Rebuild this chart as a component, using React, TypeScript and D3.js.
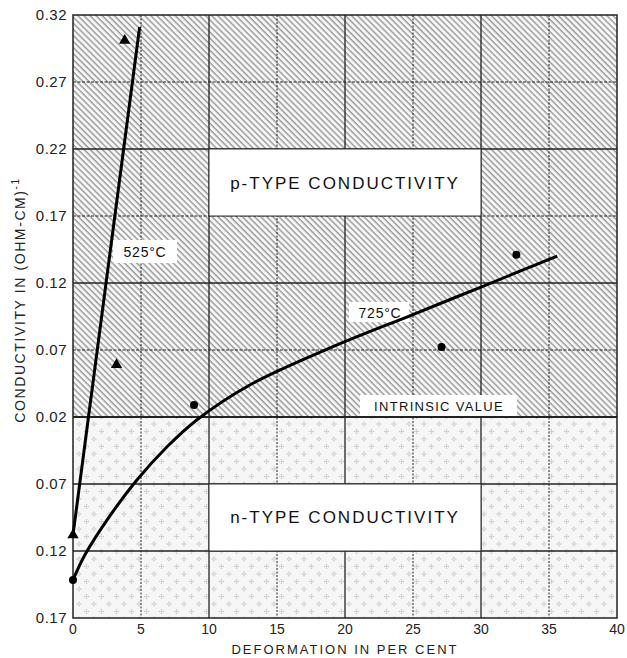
import React from "react";
import * as d3 from "d3";

// Axis position values (u). Above 0.02 = p-type scale, below = n-type scale (label shown separately)
const xTicks = [0, 5, 10, 15, 20, 25, 30, 35, 40];
const yTickPos = [0.32, 0.27, 0.22, 0.17, 0.12, 0.07, 0.02, -0.03, -0.08, -0.13];
const yTickLabels = ["0.32", "0.27", "0.22", "0.17", "0.12", "0.07", "0.02", "0.07", "0.12", "0.17"];

// 525 °C straight line and triangle points
const line525X = [0, 4.9];
const line525Y = [-0.068, 0.311];
const pts525X = [0, 3.2, 3.8];
const pts525Y = [-0.068, 0.059, 0.301];

// 725 °C curve and circle points
const curve725X = [0, 0.9, 2.7, 4.7, 6.9, 9.1, 13, 18.9, 24.9, 30, 35.6];
const curve725Y = [-0.1016, -0.0825, -0.054, -0.027, -0.0024, 0.0178, 0.0439, 0.0715, 0.0961, 0.117, 0.1401];
const pts725X = [0, 8.9, 27.1, 32.6];
const pts725Y = [-0.1016, 0.029, 0.0722, 0.141];

const W = 627;
const H = 658;
const left = 73, right = 617, top = 15, bottom = 618;
const FONT = "'Liberation Sans', Arial, sans-serif";

export default function App() {
  const x = d3.scaleLinear().domain([0, 40]).range([left, right]);
  const y = d3.scaleLinear().domain([-0.13, 0.32]).range([bottom, top]);
  const lineGen = d3.line<[number, number]>().x(d => x(d[0])).y(d => y(d[1]));
  const curveGen = d3.line<[number, number]>().x(d => x(d[0])).y(d => y(d[1])).curve(d3.curveCatmullRom.alpha(0.5));

  const l525 = line525X.map((v, i) => [v, line525Y[i]] as [number, number]);
  const c725 = curve725X.map((v, i) => [v, curve725Y[i]] as [number, number]);

  const y02 = y(0.02);
  const majorX = [10, 20, 30];
  const majorY = [0.22, 0.12, 0.02, -0.03, -0.08];

  const tri = d3.symbol().type(d3.symbolTriangle).size(55)();

  const stippleDots: [number, number][] = [];
  [[4, 4], [11.5, 11.5]].forEach(([cx, cy]) => {
    [[0, 0], [-1.8, 0], [1.8, 0], [0, -1.8], [0, 1.8]].forEach(([dx, dy]) => stippleDots.push([cx + dx, cy + dy]));
  });

  return (
    <svg width={W} height={H} style={{ position: "absolute", left: 0, top: 0, background: "#fff" }} fontFamily={FONT}>
      <defs>
        <pattern id="hatch" width={4.3} height={4.3} patternUnits="userSpaceOnUse" patternTransform="rotate(-45)">
          <rect width={4.3} height={4.3} fill="#f6f6f6" />
          <line x1={1} y1={0} x2={1} y2={4.3} stroke="#888" strokeWidth={1.2} />
        </pattern>
        <pattern id="stipple" width={15} height={15} patternUnits="userSpaceOnUse">
          <rect width={15} height={15} fill="#f6f6f6" />
          {stippleDots.map((p, i) => (
            <circle key={i} cx={p[0]} cy={p[1]} r={0.8} fill="#c4c4c4" />
          ))}
        </pattern>
      </defs>

      {/* regions */}
      <rect x={left} y={top} width={right - left} height={y02 - top} fill="url(#hatch)" />
      <rect x={left} y={y02} width={right - left} height={bottom - y02} fill="url(#stipple)" />

      {/* grid */}
      {xTicks.slice(1, -1).map(t => (
        <line key={"gx" + t} x1={x(t)} x2={x(t)} y1={top} y2={bottom}
          stroke="#222" strokeWidth={majorX.includes(t) ? 1.3 : 1}
          strokeDasharray={majorX.includes(t) ? undefined : "2,1.5"} />
      ))}
      {yTickPos.slice(1, -1).map(t => (
        <line key={"gy" + t} x1={left} x2={right} y1={y(t)} y2={y(t)}
          stroke="#222" strokeWidth={t === 0.02 ? 2.2 : majorY.includes(t) ? 1.3 : 1}
          strokeDasharray={majorY.includes(t) ? undefined : "3,1.5"} />
      ))}

      {/* label boxes */}
      <rect x={x(10)} y={y(0.22)} width={x(30) - x(10)} height={y(0.17) - y(0.22)} fill="#fff" stroke="#333" strokeWidth={1} />
      <text x={(x(10) + x(30)) / 2} y={(y(0.22) + y(0.17)) / 2 + 6} textAnchor="middle" fontSize={17} letterSpacing={2} fill="#111">
        p-TYPE  CONDUCTIVITY
      </text>
      <rect x={x(10)} y={y(-0.03)} width={x(30) - x(10)} height={y(-0.08) - y(-0.03)} fill="#fff" stroke="#333" strokeWidth={1} />
      <text x={(x(10) + x(30)) / 2} y={(y(-0.03) + y(-0.08)) / 2 + 5} textAnchor="middle" fontSize={17} letterSpacing={2} fill="#111">
        n-TYPE  CONDUCTIVITY
      </text>

      <rect x={360} y={395} width={157} height={21} fill="#fff" />
      <text x={439} y={411} textAnchor="middle" fontSize={13} letterSpacing={1.3} fill="#111">INTRINSIC VALUE</text>

      <rect x={113} y={240} width={64} height={23} fill="#fff" />
      <text x={145} y={257} textAnchor="middle" fontSize={14} letterSpacing={0.8} fill="#111">525°C</text>

      <rect x={349} y={302} width={60} height={20} fill="#fff" />
      <text x={380} y={318} textAnchor="middle" fontSize={14} letterSpacing={0.8} fill="#111">725°C</text>

      {/* frame */}
      <rect x={left} y={top} width={right - left} height={bottom - top} fill="none" stroke="#222" strokeWidth={1.5} />

      {/* data */}
      <path d={lineGen(l525) || ""} fill="none" stroke="#000" strokeWidth={3} />
      <path d={curveGen(c725) || ""} fill="none" stroke="#000" strokeWidth={3} />
      {pts525X.map((v, i) => (
        <path key={"t" + i} d={tri || ""} transform={`translate(${x(v)},${y(pts525Y[i])})`} fill="#000" />
      ))}
      {pts725X.map((v, i) => (
        <circle key={"c" + i} cx={x(v)} cy={y(pts725Y[i])} r={4} fill="#000" />
      ))}

      {/* y ticks */}
      {yTickPos.map((t, i) => (
        <text key={"yl" + i} x={left - 6} y={y(t) + 5} textAnchor="end" fontSize={15} letterSpacing={0.5} fill="#222">{yTickLabels[i]}</text>
      ))}
      {/* x ticks */}
      {xTicks.map(t => (
        <text key={"xl" + t} x={x(t)} y={634} textAnchor="middle" fontSize={14} fill="#222">{t}</text>
      ))}

      <text x={(left + right) / 2} y={654} textAnchor="middle" fontSize={13} letterSpacing={2} fill="#222">
        DEFORMATION  IN  PER  CENT
      </text>
      <text transform={`translate(25,${300}) rotate(-90)`} textAnchor="middle" fontSize={14} letterSpacing={1.6} fill="#222">
        CONDUCTIVITY  IN  (OHM-CM)
        <tspan dy={-6} fontSize={10}>-1</tspan>
      </text>
    </svg>
  );
}
